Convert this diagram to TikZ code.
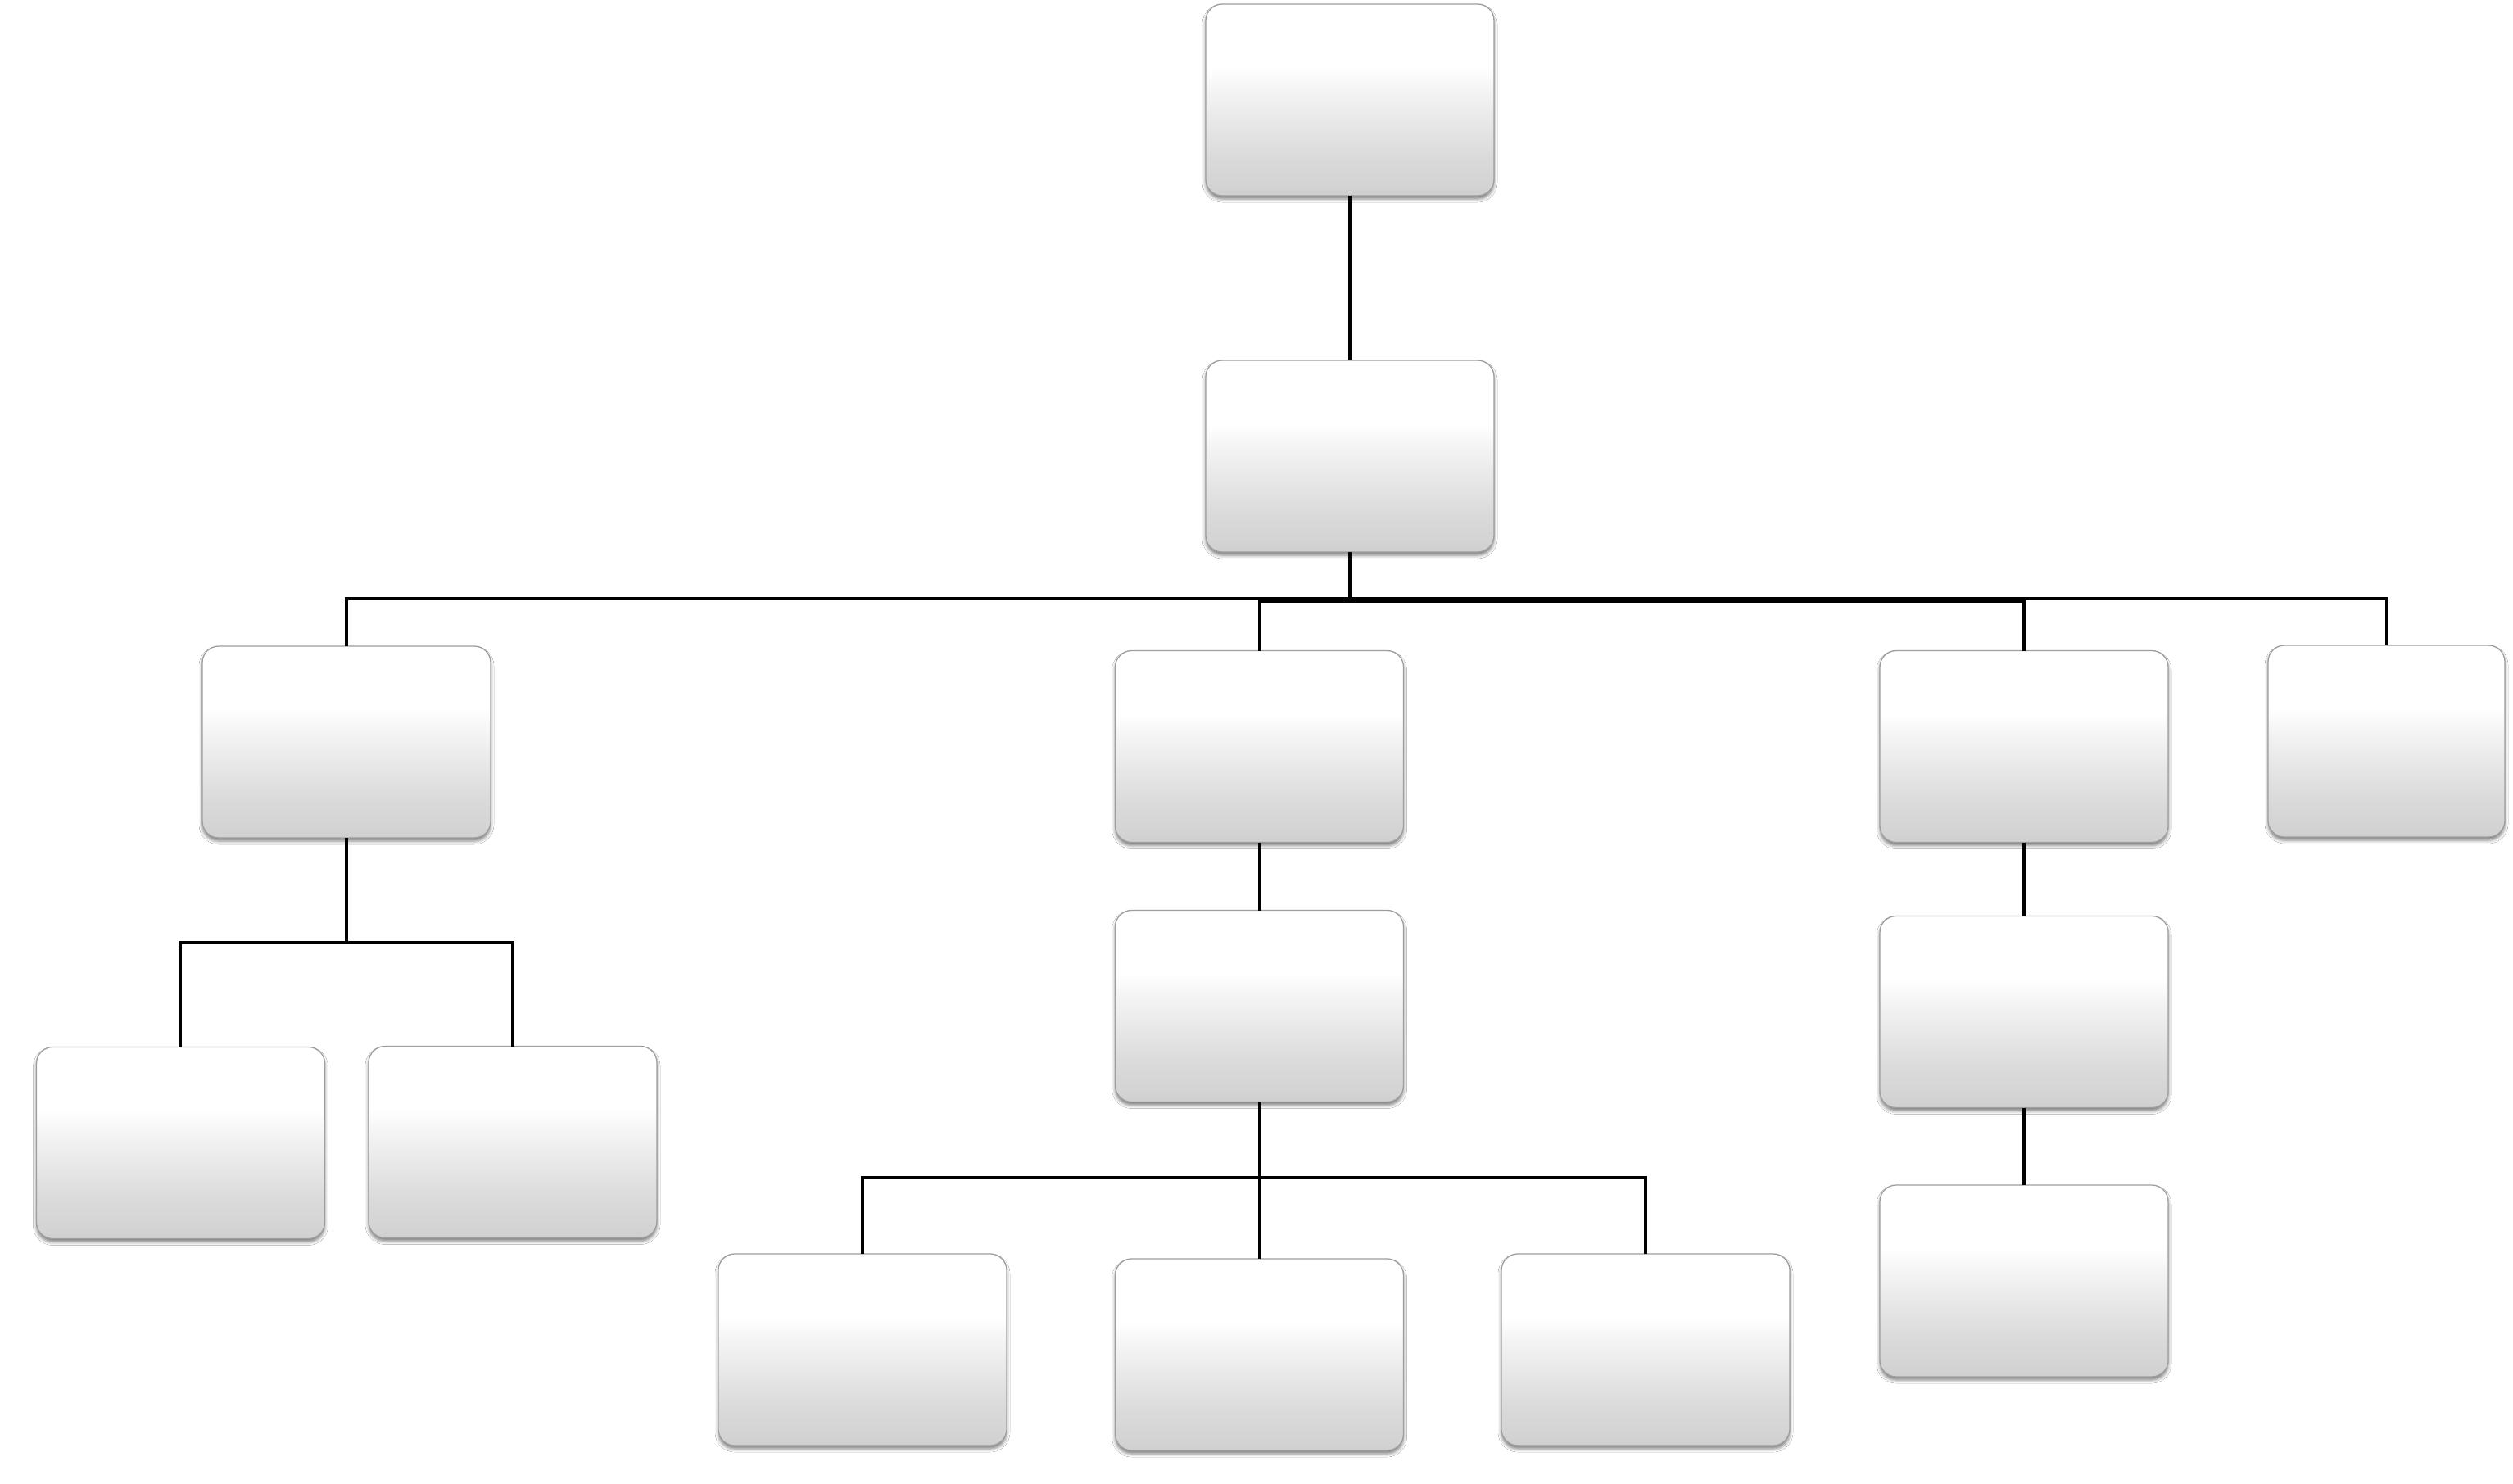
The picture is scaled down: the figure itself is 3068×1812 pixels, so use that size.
\documentclass[tikz,border=0pt]{standalone}
\usetikzlibrary{shadows.blur}
\definecolor{shA}{HTML}{F4F4F4}
\definecolor{shB}{HTML}{E5E5E5}
\definecolor{shC}{HTML}{DADADA}
\definecolor{shD}{HTML}{D3D3D3}
\definecolor{shE}{HTML}{CFCFCF}
\pgfdeclareverticalshading{boxshade}{100bp}{color(0bp)=(shE); color(25bp)=(shE); color(27.5bp)=(shD); color(35bp)=(shC); color(42.5bp)=(shB); color(52.5bp)=(shA); color(58.5bp)=(white); color(100bp)=(white)}
\tikzset{
  orgbox/.style={rectangle, rounded corners=20pt, minimum width=352pt, minimum height=234pt,
    inner sep=0pt, outer sep=0pt, shading=boxshade, draw=black!38, line width=1.3pt,
    blur shadow={shadow xshift=0pt, shadow yshift=-4pt, shadow blur radius=4pt, shadow opacity=50}},
  conn/.style={line width=3.2pt, draw=black}
}
\begin{document}
\begin{tikzpicture}[x=1pt, y=-1pt]
\fill[white] (0,0) rectangle (3068,1812);
\useasboundingbox (0,0) rectangle (3068,1812);
% nodes
\node[orgbox] (P1) at (1648,122) {};
\node[orgbox] (P2) at (1648,557) {};
\node[orgbox] (L1) at (423,906) {};
\node[orgbox] (M1) at (1537.5,911.5) {};
\node[orgbox] (R1) at (2471,911.5) {};
\node[orgbox, minimum width=289pt] (RR) at (2913.5,905) {};
\node[orgbox] (LL) at (220.5,1395.5) {};
\node[orgbox] (LR) at (626,1394.5) {};
\node[orgbox] (M2) at (1537.5,1228.5) {};
\node[orgbox] (B1) at (1053,1648) {};
\node[orgbox] (B2) at (1537.5,1654) {};
\node[orgbox] (B3) at (2009,1648) {};
\node[orgbox] (R2) at (2471,1235.5) {};
\node[orgbox] (R3) at (2471,1564) {};
% connectors
\draw[conn] (P1.south) -- (P2.north);
\draw[conn] (P2.south) -- ++(0,57) -| (L1.north);
\draw[conn] (P2.south) -- ++(0,57) -| (RR.north);
\draw[conn] (P2.south) -- ++(0,60) -| (M1.north);
\draw[conn] (P2.south) -- ++(0,60) -| (R1.north);
\draw[conn] (L1.south) -- ++(0,128) -| (LL.north);
\draw[conn] (L1.south) -- ++(0,128) -| (LR.north);
\draw[conn] (M1.south) -- (M2.north);
\draw[conn] (M2.south) -- ++(0,92.5) -| (B1.north);
\draw[conn] (M2.south) -- ++(0,92.5) -| (B3.north);
\draw[conn] (M2.south) -- (B2.north);
\draw[conn] (R1.south) -- (R2.north);
\draw[conn] (R2.south) -- (R3.north);
\end{tikzpicture}
\end{document}
